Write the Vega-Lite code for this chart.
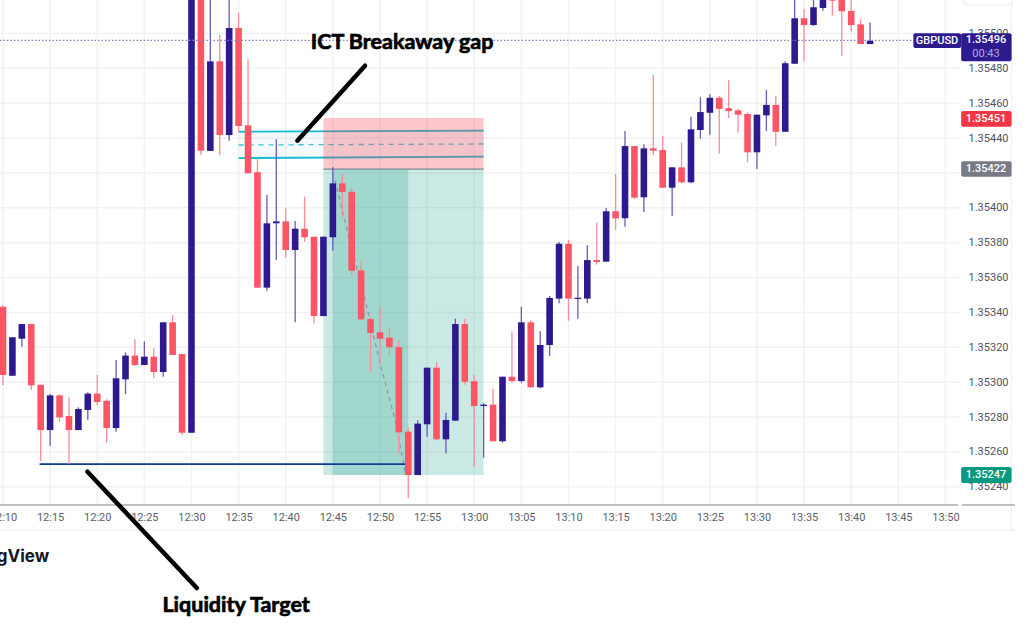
{
"$schema":"https://vega.github.io/schema/vega-lite/v6.json",
"width":1024,"height":643,"padding":0,"autosize":{"type":"none"},"background":"#ffffff",
"config":{"view":{"stroke":null},"font":"Roboto"},
"data":{"format":{"parse":{"t":"utc:'%H:%M'"}},"values":[
{"t":"12:10","o":1.353433,"h":1.353442,"l":1.352984,"c":1.353041},
{"t":"12:11","o":1.353037,"h":1.353257,"l":1.353037,"c":1.353257},
{"t":"12:12","o":1.353249,"h":1.353333,"l":1.353203,"c":1.353333},
{"t":"12:13","o":1.353333,"h":1.353333,"l":1.352955,"c":1.352982},
{"t":"12:14","o":1.352985,"h":1.352985,"l":1.352548,"c":1.352725},
{"t":"12:15","o":1.352725,"h":1.352932,"l":1.352635,"c":1.352924},
{"t":"12:16","o":1.352924,"h":1.35293,"l":1.352773,"c":1.352798},
{"t":"12:17","o":1.352806,"h":1.352913,"l":1.352529,"c":1.352725},
{"t":"12:18","o":1.352725,"h":1.352856,"l":1.352725,"c":1.352846},
{"t":"12:19","o":1.35284,"h":1.352942,"l":1.352783,"c":1.352934},
{"t":"12:20","o":1.352934,"h":1.353041,"l":1.352869,"c":1.352886},
{"t":"12:21","o":1.352893,"h":1.352902,"l":1.352653,"c":1.352737},
{"t":"12:22","o":1.352737,"h":1.353127,"l":1.352716,"c":1.353022},
{"t":"12:23","o":1.353016,"h":1.353171,"l":1.352932,"c":1.353152},
{"t":"12:24","o":1.353152,"h":1.353246,"l":1.353093,"c":1.353098},
{"t":"12:25","o":1.353098,"h":1.353234,"l":1.353098,"c":1.353146},
{"t":"12:26","o":1.353146,"h":1.353194,"l":1.353022,"c":1.353058},
{"t":"12:27","o":1.353058,"h":1.353343,"l":1.353031,"c":1.353343},
{"t":"12:28","o":1.353343,"h":1.353385,"l":1.353154,"c":1.353156},
{"t":"12:29","o":1.353161,"h":1.353161,"l":1.352697,"c":1.35271},
{"t":"12:30","o":1.35271,"h":1.35526,"l":1.35271,"c":1.35526},
{"t":"12:31","o":1.35526,"h":1.35526,"l":1.354303,"c":1.354327},
{"t":"12:32","o":1.354326,"h":1.35526,"l":1.354326,"c":1.35484},
{"t":"12:33","o":1.35484,"h":1.354991,"l":1.354303,"c":1.354417},
{"t":"12:34","o":1.354417,"h":1.35526,"l":1.354385,"c":1.355031},
{"t":"12:35","o":1.355031,"h":1.355119,"l":1.354436,"c":1.354469},
{"t":"12:36","o":1.354473,"h":1.354852,"l":1.354198,"c":1.354198},
{"t":"12:37","o":1.354204,"h":1.354287,"l":1.35354,"c":1.353542},
{"t":"12:38","o":1.353542,"h":1.354073,"l":1.353524,"c":1.353911},
{"t":"12:39","o":1.353911,"h":1.354393,"l":1.3537,"c":1.353922},
{"t":"12:40","o":1.353922,"h":1.353997,"l":1.353714,"c":1.353758},
{"t":"12:41","o":1.353758,"h":1.353924,"l":1.353343,"c":1.35388},
{"t":"12:42","o":1.35388,"h":1.354064,"l":1.353805,"c":1.353831},
{"t":"12:43","o":1.353834,"h":1.353834,"l":1.353337,"c":1.353379},
{"t":"12:44","o":1.353379,"h":1.353834,"l":1.353379,"c":1.353834},
{"t":"12:45","o":1.353831,"h":1.354232,"l":1.353754,"c":1.35414},
{"t":"12:46","o":1.35414,"h":1.354194,"l":1.353945,"c":1.354091},
{"t":"12:47","o":1.354092,"h":1.354117,"l":1.353613,"c":1.353639},
{"t":"12:48","o":1.353641,"h":1.353695,"l":1.353355,"c":1.35336},
{"t":"12:49","o":1.353362,"h":1.353372,"l":1.353054,"c":1.353282},
{"t":"12:50","o":1.353286,"h":1.353431,"l":1.353104,"c":1.353249},
{"t":"12:51","o":1.353255,"h":1.353312,"l":1.353152,"c":1.3532},
{"t":"12:52","o":1.353201,"h":1.353242,"l":1.352592,"c":1.352712},
{"t":"12:53","o":1.352716,"h":1.352741,"l":1.352334,"c":1.352467},
{"t":"12:54","o":1.352467,"h":1.352781,"l":1.352467,"c":1.352762},
{"t":"12:55","o":1.352758,"h":1.353083,"l":1.352687,"c":1.353083},
{"t":"12:56","o":1.353083,"h":1.353115,"l":1.352666,"c":1.352672},
{"t":"12:57","o":1.352672,"h":1.352825,"l":1.352592,"c":1.352783},
{"t":"12:58","o":1.352779,"h":1.353364,"l":1.352779,"c":1.353333},
{"t":"12:59","o":1.353333,"h":1.353364,"l":1.352985,"c":1.353002},
{"t":"13:00","o":1.353005,"h":1.353041,"l":1.352515,"c":1.352863},
{"t":"13:01","o":1.352863,"h":1.352879,"l":1.352567,"c":1.352871},
{"t":"13:02","o":1.352871,"h":1.352962,"l":1.352661,"c":1.352661},
{"t":"13:03","o":1.352661,"h":1.353031,"l":1.352653,"c":1.353031},
{"t":"13:04","o":1.353031,"h":1.35329,"l":1.352997,"c":1.353006},
{"t":"13:05","o":1.353006,"h":1.353433,"l":1.352997,"c":1.353343},
{"t":"13:06","o":1.353343,"h":1.353355,"l":1.35297,"c":1.35297},
{"t":"13:07","o":1.35297,"h":1.353292,"l":1.352965,"c":1.353213},
{"t":"13:08","o":1.353213,"h":1.353494,"l":1.35315,"c":1.353483},
{"t":"13:09","o":1.353479,"h":1.353804,"l":1.353452,"c":1.353794},
{"t":"13:10","o":1.353794,"h":1.353815,"l":1.353352,"c":1.353479},
{"t":"13:11","o":1.353477,"h":1.353666,"l":1.353364,"c":1.353484},
{"t":"13:12","o":1.353479,"h":1.353785,"l":1.353452,"c":1.3537},
{"t":"13:13","o":1.3537,"h":1.353914,"l":1.353674,"c":1.353689},
{"t":"13:14","o":1.353691,"h":1.353999,"l":1.353691,"c":1.35398},
{"t":"13:15","o":1.35398,"h":1.354194,"l":1.353873,"c":1.353939},
{"t":"13:16","o":1.35394,"h":1.35444,"l":1.353891,"c":1.354354},
{"t":"13:17","o":1.354354,"h":1.354354,"l":1.354052,"c":1.354058},
{"t":"13:18","o":1.35406,"h":1.354364,"l":1.353976,"c":1.354341},
{"t":"13:19","o":1.354341,"h":1.354762,"l":1.354301,"c":1.354327},
{"t":"13:20","o":1.354331,"h":1.354412,"l":1.354115,"c":1.354115},
{"t":"13:21","o":1.354115,"h":1.354232,"l":1.353953,"c":1.354232},
{"t":"13:22","o":1.354232,"h":1.354373,"l":1.35414,"c":1.354146},
{"t":"13:23","o":1.354146,"h":1.354522,"l":1.35414,"c":1.35445},
{"t":"13:24","o":1.354446,"h":1.354634,"l":1.354396,"c":1.354549},
{"t":"13:25","o":1.354545,"h":1.354651,"l":1.354419,"c":1.354631},
{"t":"13:26","o":1.354631,"h":1.354641,"l":1.354312,"c":1.354567},
{"t":"13:27","o":1.354571,"h":1.354731,"l":1.354515,"c":1.354555},
{"t":"13:28","o":1.354559,"h":1.354568,"l":1.354431,"c":1.354534},
{"t":"13:29","o":1.354538,"h":1.354548,"l":1.354261,"c":1.354318},
{"t":"13:30","o":1.354318,"h":1.354534,"l":1.354222,"c":1.354534},
{"t":"13:31","o":1.35453,"h":1.354676,"l":1.35444,"c":1.35459},
{"t":"13:32","o":1.35459,"h":1.354641,"l":1.354354,"c":1.354436},
{"t":"13:33","o":1.354436,"h":1.35484,"l":1.354436,"c":1.354829},
{"t":"13:34","o":1.354826,"h":1.355209,"l":1.354826,"c":1.355087},
{"t":"13:35","o":1.355087,"h":1.355138,"l":1.35484,"c":1.355048},
{"t":"13:36","o":1.355048,"h":1.355209,"l":1.355044,"c":1.35515},
{"t":"13:37","o":1.355146,"h":1.355209,"l":1.35513,"c":1.355197},
{"t":"13:38","o":1.355209,"h":1.355209,"l":1.355102,"c":1.355188},
{"t":"13:39","o":1.355197,"h":1.355209,"l":1.354872,"c":1.355127},
{"t":"13:40","o":1.355129,"h":1.355209,"l":1.35501,"c":1.355048},
{"t":"13:41","o":1.355052,"h":1.355081,"l":1.354939,"c":1.354939},
{"t":"13:42","o":1.354939,"h":1.355062,"l":1.354939,"c":1.354958}
]},
"layer":[
{"data":{"format":{"parse":{"t":"utc:'%H:%M:%S'","t1":"utc:'%H:%M:%S'"}},"values":[
{"p":1.3524,"t":"12:09:41","t1":"13:51:30"},{"p":1.3526,"t":"12:09:41","t1":"13:51:30"},{"p":1.3528,"t":"12:09:41","t1":"13:51:30"},{"p":1.353,"t":"12:09:41","t1":"13:51:30"},{"p":1.3532,"t":"12:09:41","t1":"13:51:30"},{"p":1.3534,"t":"12:09:41","t1":"13:51:30"},{"p":1.3536,"t":"12:09:41","t1":"13:51:30"},{"p":1.3538,"t":"12:09:41","t1":"13:51:30"},{"p":1.354,"t":"12:09:41","t1":"13:51:30"},{"p":1.3542,"t":"12:09:41","t1":"13:51:30"},{"p":1.3544,"t":"12:09:41","t1":"13:51:30"},{"p":1.3546,"t":"12:09:41","t1":"13:51:30"},{"p":1.3548,"t":"12:09:41","t1":"13:51:30"},{"p":1.355,"t":"12:09:41","t1":"13:51:30"},{"p":1.352152,"t":"12:09:41","t1":"13:57:23"}
]},
"mark":{"type":"rule","color":"#f1f2f4","strokeWidth":1.5},
"encoding":{
"x":{"field":"t","type":"temporal","scale":{"type":"utc","nice":false,"padding":0,"domain":[{"year":1900,"month":1,"date":1,"hours":12,"minutes":9,"seconds":41,"utc":true},{"year":1900,"month":1,"date":1,"hours":13,"minutes":58,"seconds":20,"utc":true}]},
"axis":{"orient":"bottom","offset":-138,"title":null,"domain":false,"ticks":false,"grid":false,"format":"%H:%M","labelFont":"Roboto","labelFontSize":11,"labelColor":"#5b5f69","labelPadding":6,"labelOverlap":false,"labelFlush":false,
"values":[{"year":1900,"month":1,"date":1,"hours":12,"minutes":10,"utc":true},{"year":1900,"month":1,"date":1,"hours":12,"minutes":15,"utc":true},{"year":1900,"month":1,"date":1,"hours":12,"minutes":20,"utc":true},{"year":1900,"month":1,"date":1,"hours":12,"minutes":25,"utc":true},{"year":1900,"month":1,"date":1,"hours":12,"minutes":30,"utc":true},{"year":1900,"month":1,"date":1,"hours":12,"minutes":35,"utc":true},{"year":1900,"month":1,"date":1,"hours":12,"minutes":40,"utc":true},{"year":1900,"month":1,"date":1,"hours":12,"minutes":45,"utc":true},{"year":1900,"month":1,"date":1,"hours":12,"minutes":50,"utc":true},{"year":1900,"month":1,"date":1,"hours":12,"minutes":55,"utc":true},{"year":1900,"month":1,"date":1,"hours":13,"minutes":0,"utc":true},{"year":1900,"month":1,"date":1,"hours":13,"minutes":5,"utc":true},{"year":1900,"month":1,"date":1,"hours":13,"minutes":10,"utc":true},{"year":1900,"month":1,"date":1,"hours":13,"minutes":15,"utc":true},{"year":1900,"month":1,"date":1,"hours":13,"minutes":20,"utc":true},{"year":1900,"month":1,"date":1,"hours":13,"minutes":25,"utc":true},{"year":1900,"month":1,"date":1,"hours":13,"minutes":30,"utc":true},{"year":1900,"month":1,"date":1,"hours":13,"minutes":35,"utc":true},{"year":1900,"month":1,"date":1,"hours":13,"minutes":40,"utc":true},{"year":1900,"month":1,"date":1,"hours":13,"minutes":45,"utc":true},{"year":1900,"month":1,"date":1,"hours":13,"minutes":50,"utc":true}]}},
"x2":{"field":"t1"},
"y":{"field":"p","type":"quantitative","scale":{"domain":[1.3515038,1.3551917],"nice":false,"zero":false},
"axis":{"orient":"right","offset":-56,"title":null,"domain":false,"ticks":false,"grid":false,"format":".5f","labelFont":"Roboto","labelFontSize":11,"labelColor":"#4f535e","labelPadding":0,"labelOverlap":false,"labelFlush":false,"values":[1.3524,1.3526,1.3528,1.353,1.3532,1.3534,1.3536,1.3538,1.354,1.3544,1.3546,1.3548,1.355]}}
}},
{"data":{"format":{"parse":{"t":"utc:'%H:%M'"}},"values":[
{"t":"12:10","p0":1.352295,"p1":1.3551917},{"t":"12:15","p0":1.352295,"p1":1.3551917},{"t":"12:20","p0":1.352295,"p1":1.3551917},{"t":"12:25","p0":1.352295,"p1":1.3551917},{"t":"12:30","p0":1.352295,"p1":1.3551917},{"t":"12:35","p0":1.352295,"p1":1.3551917},{"t":"12:40","p0":1.352295,"p1":1.3551917},{"t":"12:45","p0":1.352295,"p1":1.3551917},{"t":"12:50","p0":1.352295,"p1":1.3551917},{"t":"12:55","p0":1.352295,"p1":1.3551917},{"t":"13:00","p0":1.352295,"p1":1.3551917},{"t":"13:05","p0":1.352295,"p1":1.3551917},{"t":"13:10","p0":1.352295,"p1":1.3551917},{"t":"13:15","p0":1.352295,"p1":1.3551917},{"t":"13:20","p0":1.352295,"p1":1.3551917},{"t":"13:25","p0":1.352295,"p1":1.3551917},{"t":"13:30","p0":1.352295,"p1":1.3551917},{"t":"13:35","p0":1.352295,"p1":1.3551917},{"t":"13:40","p0":1.352295,"p1":1.3551917},{"t":"13:45","p0":1.352295,"p1":1.3551917},{"t":"13:50","p0":1.352295,"p1":1.3551917},{"t":"13:57","p0":1.352152,"p1":1.3551917}
]},
"mark":{"type":"rule","color":"#f1f2f4","strokeWidth":1.5},
"encoding":{"x":{"field":"t","type":"temporal"},"y":{"field":"p0","type":"quantitative"},"y2":{"field":"p1"}}},
{"data":{"format":{"parse":{"t":"utc:'%H:%M:%S'","t1":"utc:'%H:%M:%S'"}},"values":[
{"p":1.352295,"t":"12:09:41","t1":"13:51:20"},{"p":1.352295,"t":"13:51:45","t1":"13:57:23"}
]},
"mark":{"type":"rule","color":"#a9abb0","strokeWidth":1.5},
"encoding":{"x":{"field":"t","type":"temporal"},"x2":{"field":"t1"},"y":{"field":"p","type":"quantitative"}}},
{"data":{"format":{"parse":{"t":"utc:'%H:%M:%S'","t1":"utc:'%H:%M:%S'"}},"values":[{"t":"13:51:55","t1":"13:57:05","p0":1.35525,"p1":1.355163}]},
"mark":{"type":"rect","fill":"#ffffff","stroke":"#eceef0","strokeWidth":1.2,"cornerRadius":3},
"encoding":{"x":{"field":"t","type":"temporal"},"x2":{"field":"t1"},"y":{"field":"p0","type":"quantitative"},"y2":{"field":"p1"}}},
{"data":{"format":{"parse":{"t":"utc:'%H:%M:%S'","t1":"utc:'%H:%M:%S'"}},"values":[{"t":"12:35:00","t1":"13:01:00","p0":1.35444,"p1":1.35429}]},
"mark":{"type":"rect","fill":"#2196c8","opacity":0.05},
"encoding":{"x":{"field":"t","type":"temporal"},"x2":{"field":"t1"},"y":{"field":"p0","type":"quantitative"},"y2":{"field":"p1"}}},
{"data":{"format":{"parse":{"t":"utc:'%H:%M:%S'"}},"values":[
{"s":"top","t":"12:35:00","p":1.354436},{"s":"top","t":"13:01:00","p":1.354442},
{"s":"bottom","t":"12:35:00","p":1.354285},{"s":"bottom","t":"13:01:00","p":1.354293}
]},
"mark":{"type":"line","color":"#13bcd6","strokeWidth":1.8},
"encoding":{"x":{"field":"t","type":"temporal"},"y":{"field":"p","type":"quantitative"},"detail":{"field":"s"}}},
{"data":{"format":{"parse":{"t":"utc:'%H:%M:%S'"}},"values":[{"t":"12:35:00","p":1.35436},{"t":"13:01:00","p":1.354366}]},
"mark":{"type":"line","color":"#3cc4dc","strokeWidth":1.3,"strokeDash":[5,5]},
"encoding":{"x":{"field":"t","type":"temporal"},"y":{"field":"p","type":"quantitative"}}},
{"data":{"format":{"parse":{"t":"utc:'%H:%M'","t1":"utc:'%H:%M'"}},"values":[{"t":"12:44","t1":"13:01","p0":1.354515,"p1":1.354222}]},
"mark":{"type":"rect","fill":"#f23645","opacity":0.28},
"encoding":{"x":{"field":"t","type":"temporal"},"x2":{"field":"t1"},"y":{"field":"p0","type":"quantitative"},"y2":{"field":"p1"}}},
{"data":{"format":{"parse":{"t":"utc:'%H:%M'","t1":"utc:'%H:%M'"}},"values":[{"t":"12:44","t1":"13:01","p0":1.354222,"p1":1.352467},{"t":"12:45","t1":"12:53","p0":1.354222,"p1":1.352467}]},
"mark":{"type":"rect","fill":"#089981","opacity":0.21},
"encoding":{"x":{"field":"t","type":"temporal"},"x2":{"field":"t1"},"y":{"field":"p0","type":"quantitative"},"y2":{"field":"p1"}}},
{"data":{"format":{"parse":{"t":"utc:'%H:%M'","t1":"utc:'%H:%M'"}},"values":[{"t":"12:44","t1":"13:01","p":1.354222}]},
"mark":{"type":"rule","color":"#7b8a90","strokeWidth":1.2},
"encoding":{"x":{"field":"t","type":"temporal"},"x2":{"field":"t1"},"y":{"field":"p","type":"quantitative"}}},
{"data":{"format":{"parse":{"t":"utc:'%H:%M:%S'"}},"values":[
{"t":"12:45:14","p":1.354159},{"t":"12:46:30","p":1.353873},{"t":"12:48:36","p":1.353433},{"t":"12:50:00","p":1.35311},{"t":"12:51:36","p":1.352783},{"t":"12:52:40","p":1.352486}
]},
"mark":{"type":"line","color":"#8c9a9c","strokeWidth":1.3,"strokeDash":[4,4]},
"encoding":{"x":{"field":"t","type":"temporal"},"y":{"field":"p","type":"quantitative"}}},
{"data":{"format":{"parse":{"t":"utc:'%H:%M:%S'","t1":"utc:'%H:%M:%S'"}},"values":[{"t":"12:13:53","t1":"12:52:40","p":1.35253}]},
"mark":{"type":"rule","color":"#0f3a96","strokeWidth":1.8},
"encoding":{"x":{"field":"t","type":"temporal"},"x2":{"field":"t1"},"y":{"field":"p","type":"quantitative"}}},
{"mark":{"type":"rule","strokeWidth":1.3},
"encoding":{"x":{"field":"t","type":"temporal"},"y":{"field":"l","type":"quantitative"},"y2":{"field":"h"},
"color":{"condition":{"test":"datum.c>=datum.o","value":"#6a5bb3"},"value":"#fa8c98"}}},
{"mark":{"type":"bar","size":6.6},
"encoding":{"x":{"field":"t","type":"temporal"},"y":{"field":"o","type":"quantitative"},"y2":{"field":"c"},
"color":{"condition":{"test":"datum.c>=datum.o","value":"#2e1a8f"},"value":"#fb5566"}}},
{"data":{"format":{"parse":{"t":"utc:'%H:%M:%S'","t1":"utc:'%H:%M:%S'"}},"values":[{"t":"12:09:41","t1":"13:46:40","p":1.35496}]},
"mark":{"type":"rule","color":"#8a7dc4","strokeWidth":1.2,"strokeDash":[1.5,2]},
"encoding":{"x":{"field":"t","type":"temporal"},"x2":{"field":"t1"},"y":{"field":"p","type":"quantitative"}}},
{"data":{"format":{"parse":{"t":"utc:'%H:%M:%S'","t1":"utc:'%H:%M:%S'"}},"values":[
{"k":"last","t":"13:51:40","t1":"13:57:01","p0":1.355001,"p1":1.35484},
{"k":"symbol","t":"13:46:36","t1":"13:51:40","p0":1.355001,"p1":1.354916},
{"k":"ask","t":"13:51:40","t1":"13:57:01","p0":1.354555,"p1":1.354465},
{"k":"stop","t":"13:51:40","t1":"13:57:01","p0":1.354267,"p1":1.354178},
{"k":"target","t":"13:51:40","t1":"13:57:01","p0":1.352513,"p1":1.352421}
]},
"mark":{"type":"rect","cornerRadius":2},
"encoding":{"x":{"field":"t","type":"temporal"},"x2":{"field":"t1"},"y":{"field":"p0","type":"quantitative"},"y2":{"field":"p1"},
"color":{"field":"k","type":"nominal","legend":null,"scale":{"domain":["last","symbol","ask","stop","target"],"range":["#2e1a8f","#2e1a8f","#f23645","#787b86","#089981"]}}}},
{"data":{"format":{"parse":{"t":"utc:'%H:%M:%S'"}},"values":[
{"t":"13:54:18","p":1.35496,"label":"1.35496"},{"t":"13:49:06","p":1.354958,"label":"GBPUSD"},{"t":"13:54:18","p":1.354511,"label":"1.35451"},{"t":"13:54:18","p":1.354221,"label":"1.35422"},{"t":"13:54:18","p":1.352467,"label":"1.35247"}
]},
"mark":{"type":"text","color":"#ffffff","font":"Roboto","fontSize":11,"fontWeight":500,"align":"center","baseline":"middle"},
"encoding":{"x":{"field":"t","type":"temporal"},"y":{"field":"p","type":"quantitative"},"text":{"field":"label"}}},
{"data":{"format":{"parse":{"t":"utc:'%H:%M:%S'"}},"values":[{"t":"13:54:18","p":1.354882,"label":"00:43"}]},
"mark":{"type":"text","color":"#b4acd8","font":"Roboto","fontSize":11,"align":"center","baseline":"middle"},
"encoding":{"x":{"field":"t","type":"temporal"},"y":{"field":"p","type":"quantitative"},"text":{"field":"label"}}},
{"data":{"format":{"parse":{"t":"utc:'%H:%M'"}},"values":[{"t":"13:42","p":1.352364}]},
"mark":{"type":"point","shape":"circle","size":240,"filled":false,"stroke":"#ab47bc","strokeWidth":1.6,"opacity":1},
"encoding":{"x":{"field":"t","type":"temporal"},"y":{"field":"p","type":"quantitative"}}},
{"data":{"format":{"parse":{"t":"utc:'%H:%M'"}},"values":[{"t":"13:42","p":1.352364}]},
"mark":{"type":"point","shape":"M0.15,-0.6L-0.4,0.1L-0.05,0.1L-0.15,0.6L0.4,-0.15L0.05,-0.15Z","size":90,"filled":true,"fill":"#ab47bc","opacity":1},
"encoding":{"x":{"field":"t","type":"temporal"},"y":{"field":"p","type":"quantitative"}}},
{"data":{"format":{"parse":{"t":"utc:'%H:%M:%S'"}},"values":[
{"s":"gap","t":"12:48:25","p":1.354815},{"s":"gap","t":"12:41:14","p":1.354385},
{"s":"target","t":"12:18:58","p":1.352486},{"s":"target","t":"12:30:34","p":1.351819}
]},
"mark":{"type":"line","color":"#000000","strokeWidth":4.5,"strokeCap":"round"},
"encoding":{"x":{"field":"t","type":"temporal"},"y":{"field":"p","type":"quantitative"},"detail":{"field":"s"}}},
{"data":{"format":{"parse":{"t":"utc:'%H:%M:%S'"}},"values":[
{"t":"12:52:21","p":1.354945,"label":"ICT Breakaway gap"},{"t":"12:34:44","p":1.351716,"label":"Liquidity Target"}
]},
"mark":{"type":"text","color":"#000000","font":"Lato","fontWeight":"bold","fontSize":21.5,"align":"center","baseline":"middle","stroke":"#000000","strokeWidth":0.7},
"encoding":{"x":{"field":"t","type":"temporal"},"y":{"field":"p","type":"quantitative"},"text":{"field":"label"}}},
{"data":{"format":{"parse":{"t":"utc:'%H:%M:%S'"}},"values":[{"t":"12:14:54","p":1.351997,"label":"gView"}]},
"mark":{"type":"text","color":"#131722","font":"Inter","fontWeight":"bold","fontSize":17,"align":"right","baseline":"middle"},
"encoding":{"x":{"field":"t","type":"temporal"},"y":{"field":"p","type":"quantitative"},"text":{"field":"label"}}}
],
"resolve":{"scale":{"color":"independent"}}
}
